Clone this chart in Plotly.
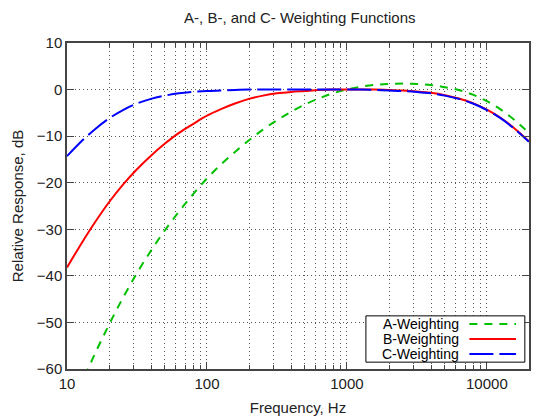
import plotly.graph_objects as go

# exact 1/3-octave band centre frequencies (Hz)
freqs = [10.0, 12.59, 15.85, 19.95, 25.12, 31.62, 39.81, 50.12, 63.10, 79.43,
         100.0, 125.9, 158.5, 199.5, 251.2, 316.2, 398.1, 501.2, 631.0, 794.3,
         1000.0, 1259, 1585, 1995, 2512, 3162, 3981, 5012, 6310, 7943,
         10000, 12589, 15849, 19953]

a_weight = [-70.4, -63.4, -56.7, -50.5, -44.7, -39.4, -34.6, -30.2, -26.2, -22.5, -19.1,
            -16.1, -13.4, -10.9, -8.6, -6.6, -4.8, -3.2, -1.9, -0.8, 0.0, 0.6, 1.0, 1.2,
            1.3, 1.2, 1.0, 0.5, -0.1, -1.1, -2.5, -4.3, -6.6, -9.3]
b_weight = [-38.2, -33.2, -28.5, -24.2, -20.4, -17.1, -14.2, -11.6, -9.3, -7.4, -5.6,
            -4.2, -3.0, -2.0, -1.3, -0.8, -0.5, -0.3, -0.1, 0.0, 0.0, 0.0, 0.0, -0.1,
            -0.2, -0.4, -0.7, -1.2, -1.9, -2.9, -4.3, -6.1, -8.4, -11.1]
c_weight = [-14.3, -11.2, -8.5, -6.2, -4.4, -3.0, -2.0, -1.3, -0.8, -0.5, -0.3, -0.2,
            -0.1, 0.0, 0.0, 0.0, 0.0, 0.0, 0.0, 0.0, 0.0, 0.0, -0.1, -0.2, -0.3, -0.5,
            -0.8, -1.3, -2.0, -3.0, -4.4, -6.2, -8.5, -11.2]

series_names = ["A-Weighting", "B-Weighting", "C-Weighting"]
series_values = [a_weight, b_weight, c_weight]
series_colors = ["#00c000", "#ff0000", "#0000ff"]
series_dashes = ["8px,7px", "solid", "24px,6px"]

x_major = [10, 100, 1000, 10000]
x_major_text = ["10", "100", "1000", "10000"]
x_minor = [m * d for d in (10, 100, 1000) for m in range(2, 10)] + [20000]
y_ticks = [10, 0, -10, -20, -30, -40, -50, -60]

FONT = "Liberation Sans, Arial, sans-serif"

fig = go.Figure()
for name, vals, col, dash in zip(series_names, series_values, series_colors, series_dashes):
    fig.add_trace(go.Scatter(x=freqs, y=vals, mode="lines", name=name,
                             line=dict(color=col, width=2, dash=dash, shape="spline",
                                       smoothing=1.0),
                             showlegend=False))

# manual gnuplot-style legend (text left, sample right)
lx0, lx1, ly0, ly1 = 0.647, 0.991, 0.021, 0.163
fig.add_shape(type="rect", xref="paper", yref="paper", x0=lx0, x1=lx1, y0=ly0, y1=ly1,
              line=dict(color="black", width=1), fillcolor="white", layer="above")
row_y = [0.138, 0.092, 0.046]
for name, col, dash, ry in zip(series_names, series_colors, series_dashes, row_y):
    fig.add_annotation(xref="paper", yref="paper", x=0.853, y=ry, text=name,
                       showarrow=False, xanchor="right", yanchor="middle",
                       font=dict(family=FONT, size=14, color="black"))
    fig.add_shape(type="line", xref="paper", yref="paper", x0=0.871, x1=0.972,
                  y0=ry, y1=ry, line=dict(color=col, width=2, dash=dash), layer="above")

grid = dict(showgrid=True, gridcolor="#555", gridwidth=1, griddash="1px,3px")

fig.update_layout(
    width=533, height=416,
    margin=dict(l=67, r=2, t=43, b=47),
    paper_bgcolor="white", plot_bgcolor="white",
    title=dict(text="A-, B-, and C- Weighting Functions", x=0.5625, xanchor="center",
               y=0.957, yanchor="middle", font=dict(family=FONT, size=15, color="#222")),
    font=dict(family=FONT, size=15, color="#222"),
    xaxis=dict(type="log", range=[1, 4.30103], tickmode="array", tickvals=x_major,
               ticktext=x_major_text, ticks="inside", ticklen=7, tickcolor="#444",
               showline=True, linecolor="#444", linewidth=1.5, mirror="ticks",
               zeroline=False,
               minor=dict(tickmode="array", tickvals=x_minor, ticks="inside", ticklen=4,
                          tickcolor="#444", **grid),
               title=dict(text="Frequency, Hz", standoff=12, font=dict(size=15)),
               **grid),
    yaxis=dict(range=[-60, 10], tickmode="array", tickvals=y_ticks, ticks="inside",
               ticklen=7, tickcolor="#444", showline=True, linecolor="#444",
               linewidth=1.5, mirror="ticks", zeroline=False,
               title=dict(text="Relative Response, dB", standoff=10, font=dict(size=15)),
               **grid),
)

fig.write_html("out.html")
